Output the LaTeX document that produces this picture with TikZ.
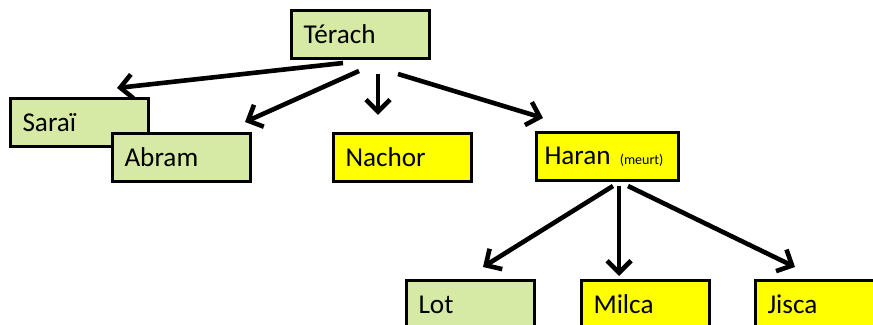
\documentclass[tikz,border=0pt]{standalone}
\usepackage{fontspec}
\setmainfont{Carlito}
\usetikzlibrary{arrows.meta}
\definecolor{paleGreen}{RGB}{214,233,165}
\definecolor{brightYellow}{RGB}{255,255,0}
\tikzset{
    person/.style={draw, line width=1.5pt, anchor=north west, align=left,
        minimum height=24pt, inner xsep=6pt, font=\fontsize{13.6}{15}\selectfont},
    wide/.style={text width=57pt},
    narrow/.style={text width=52pt},
    kept/.style={person, fill=paleGreen},
    other/.style={person, fill=brightYellow},
    descent/.style={line width=2.3pt, -{Straight Barb[length=6pt, width=12pt]}}
}
\begin{document}
\begin{tikzpicture}[x=0.5pt, y=-0.5pt]
    \useasboundingbox (0,0) rectangle (873,325);
    \begin{scope}
    \clip (0,0) rectangle (873,325);

    \node [kept, wide] (terach) at (290,9) {Térach};
    \node [kept, wide] (sarai) at (9,97) {Saraï};
    \node [kept, wide] (abram) at (111,132) {Abram};
    \node [other, wide] (nachor) at (332,132) {Nachor};
    \node [other, text width=63pt, inner xsep=4pt] (haran) at (535,131)
        {Haran {\fontsize{7}{8}\selectfont(meurt)}};
    \node [kept, narrow] (lot) at (405,279) {Lot};
    \node [other, narrow] (milca) at (580,279) {Milca};
    \node [other, narrow] (jisca) at (754,279) {Jisca};

    \coordinate (t1) at (343,63);
    \coordinate (t2) at (359,71);
    \coordinate (t3) at (378,74);
    \coordinate (t4) at (398,74);
    \coordinate (h1) at (613,186);
    \coordinate (h2) at (619,186);
    \coordinate (h3) at (628,186);

    \coordinate (to-sarai) at (117,88);
    \coordinate (to-abram) at (245,122);
    \coordinate (to-nachor) at (378,115);
    \coordinate (to-haran) at (543,118);
    \coordinate (to-lot) at (483,267);
    \coordinate (to-milca) at (619,276);
    \coordinate (to-jisca) at (795,267);

    \draw [descent] (t1) -- (to-sarai);
    \draw [descent] (t2) -- (to-abram);
    \draw [descent] (t3) -- (to-nachor);
    \draw [descent] (t4) -- (to-haran);
    \draw [descent] (h1) -- (to-lot);
    \draw [descent] (h2) -- (to-milca);
    \draw [descent] (h3) -- (to-jisca);
    \end{scope}
\end{tikzpicture}
\end{document}
